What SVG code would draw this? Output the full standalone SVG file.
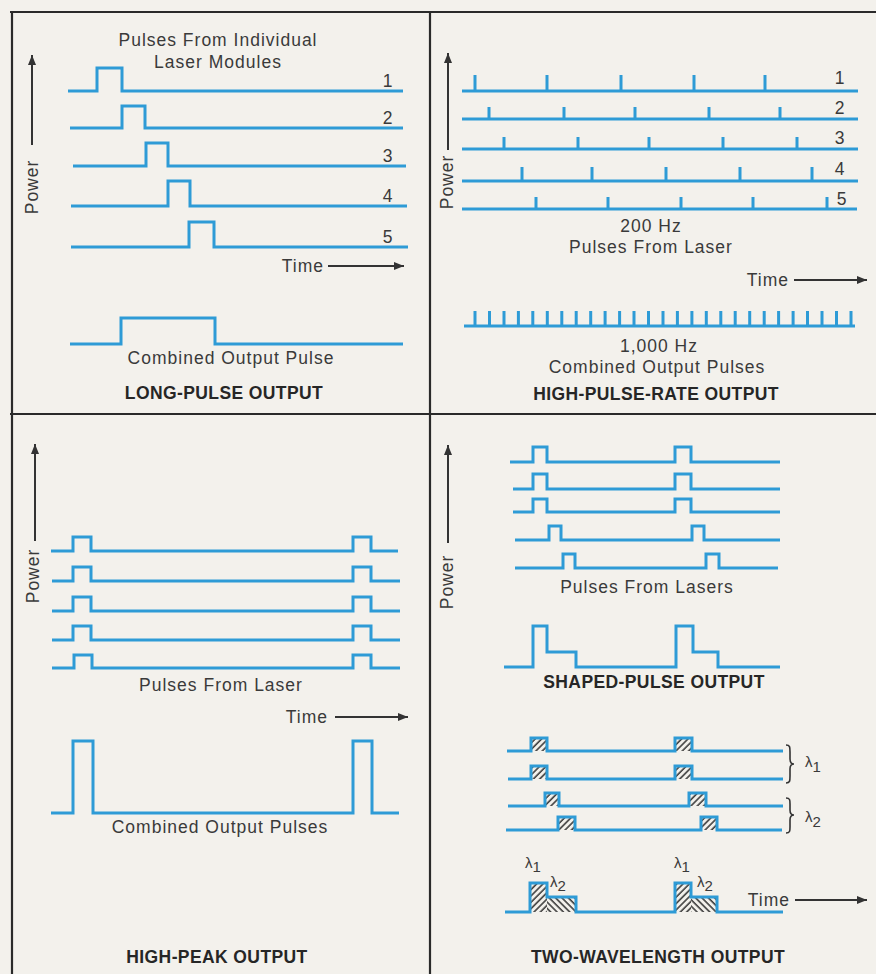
<svg xmlns="http://www.w3.org/2000/svg" width="876" height="974" viewBox="0 0 876 974">
<defs>
<style>
.w{fill:none;stroke:#2e9bd6;stroke-width:3;stroke-linejoin:miter;stroke-linecap:butt}
.t{font-family:"Liberation Sans",Arial,Helvetica,sans-serif;font-size:17.5px;fill:#3a3a3a;letter-spacing:1px}
.m{text-anchor:middle}
.e{text-anchor:end}
.b{font-weight:bold;fill:#262626;letter-spacing:0.4px}
.l{font-size:15px;letter-spacing:0}
.ax{stroke:#333;stroke-width:2;fill:none}
.fr{stroke:#2a2a2a;stroke-width:2.2;fill:none}
.br{stroke:#333;stroke-width:1.6;fill:none}
</style>
<marker id="ah" viewBox="0 0 10 8" refX="10" refY="4" markerWidth="10" markerHeight="8" markerUnits="userSpaceOnUse" orient="auto">
<path d="M0 0 L10 4 L0 8 z" fill="#333"/>
</marker>
<pattern id="h1" width="4.5" height="4.5" patternUnits="userSpaceOnUse" patternTransform="rotate(45)">
<line x1="1" y1="0" x2="1" y2="4.5" stroke="#333" stroke-width="1.5"/>
</pattern>
<pattern id="h2" width="4.5" height="4.5" patternUnits="userSpaceOnUse" patternTransform="rotate(-45)">
<line x1="1" y1="0" x2="1" y2="4.5" stroke="#333" stroke-width="1.5"/>
</pattern>
</defs>
<rect x="0" y="0" width="876" height="974" fill="#f3f1ec"/>

<g id="frame" class="fr">
<line x1="10" y1="12" x2="876" y2="12"/>
<line x1="12" y1="12" x2="12" y2="974"/>
<line x1="430" y1="12" x2="430" y2="974"/>
<line x1="10" y1="414" x2="876" y2="414"/>
</g>

<g id="long-pulse">
<line class="ax" x1="32" y1="145" x2="32" y2="55" marker-end="url(#ah)"/>
<text class="t m" transform="translate(38,187) rotate(-90)">Power</text>
<text class="t m" x="218" y="46">Pulses From Individual</text>
<text class="t m" x="218" y="68">Laser Modules</text>
<path class="w" d="M68 91 H97 V68 H122 V91 H403"/>
<path class="w" d="M70 128 H122 V106 H145 V128 H403"/>
<path class="w" d="M73 166 H146 V143 H168 V166 H406"/>
<path class="w" d="M71 206 H168 V181 H190 V206 H407"/>
<path class="w" d="M71 247 H189 V222 H214 V247 H408"/>
<text class="t m" x="388" y="87">1</text>
<text class="t m" x="388" y="124">2</text>
<text class="t m" x="388" y="162">3</text>
<text class="t m" x="388" y="202">4</text>
<text class="t m" x="388" y="243">5</text>
<text class="t e" x="324" y="272">Time</text>
<line class="ax" x1="328" y1="266" x2="404" y2="266" marker-end="url(#ah)"/>
<path class="w" d="M70 344 H121 V318 H215 V344 H403"/>
<text class="t m" x="231" y="364">Combined Output Pulse</text>
<text class="t m b" x="224" y="399">LONG-PULSE OUTPUT</text>
</g>

<g id="high-pulse-rate">
<line class="ax" x1="448" y1="150" x2="448" y2="53" marker-end="url(#ah)"/>
<text class="t m" transform="translate(453,182) rotate(-90)">Power</text>
<path class="w" d="M462 91 H858 M475 91 V75 M547 91 V75 M621 91 V75 M694 91 V75 M765 91 V75"/>
<path class="w" d="M462 119 H858 M489 119 V107 M564 119 V107 M635 119 V107 M709 119 V107 M780 119 V107"/>
<path class="w" d="M462 149 H858 M504 149 V137 M578 149 V137 M649 149 V137 M723 149 V137 M797 149 V137"/>
<path class="w" d="M462 181 H858 M522 181 V167 M592 181 V167 M666 181 V167 M740 181 V167 M812 181 V167"/>
<path class="w" d="M462 209 H857 M536 209 V197 M608 209 V197 M681 209 V197 M753 209 V197 M827 209 V197"/>
<text class="t m" x="840" y="84">1</text>
<text class="t m" x="840" y="114">2</text>
<text class="t m" x="840" y="144">3</text>
<text class="t m" x="840" y="175">4</text>
<text class="t m" x="842" y="205">5</text>
<text class="t m" x="651" y="232">200 Hz</text>
<text class="t m" x="651" y="253">Pulses From Laser</text>
<text class="t e" x="789" y="286">Time</text>
<line class="ax" x1="794" y1="280" x2="867" y2="280" marker-end="url(#ah)"/>
<path class="w" d="M464 326 H855 M475 326 V311 M489.5 326 V311 M504 326 V311 M518.4 326 V311 M532.8 326 V311 M547.3 326 V311 M561.8 326 V311 M576.2 326 V311 M590.7 326 V311 M605.1 326 V311 M619.6 326 V311 M634 326 V311 M648.5 326 V311 M663 326 V311 M677.4 326 V311 M691.9 326 V311 M706.3 326 V311 M720.8 326 V311 M735.2 326 V311 M749.7 326 V311 M764.2 326 V311 M778.6 326 V311 M793.1 326 V311 M807.5 326 V311 M822 326 V311 M836.5 326 V311 M851 326 V311"/>
<text class="t m" x="659" y="352">1,000 Hz</text>
<text class="t m" x="657" y="373">Combined Output Pulses</text>
<text class="t m b" x="656" y="400">HIGH-PULSE-RATE OUTPUT</text>
</g>

<g id="high-peak">
<line class="ax" x1="35" y1="541" x2="35" y2="444" marker-end="url(#ah)"/>
<text class="t m" transform="translate(39,576) rotate(-90)">Power</text>
<path class="w" d="M51 551 H73 V537 H91 V551 H353 V537 H371 V551 H398"/>
<path class="w" d="M52 581 H73 V567 H91 V581 H353 V567 H371 V581 H400"/>
<path class="w" d="M52 611 H73 V597 H91 V611 H353 V597 H371 V611 H400"/>
<path class="w" d="M52 640 H73 V626 H91 V640 H353 V626 H371 V640 H400"/>
<path class="w" d="M52 668 H74 V655 H92 V668 H353 V655 H371 V668 H400"/>
<text class="t m" x="221" y="691">Pulses From Laser</text>
<text class="t e" x="328" y="723">Time</text>
<line class="ax" x1="335" y1="717" x2="408" y2="717" marker-end="url(#ah)"/>
<path class="w" d="M51 813 H73 V741 H93 V813 H353 V741 H372 V813 H399"/>
<text class="t m" x="220" y="833">Combined Output Pulses</text>
<text class="t m b" x="217" y="963">HIGH-PEAK OUTPUT</text>
</g>

<g id="shaped-pulse">
<line class="ax" x1="448" y1="543" x2="448" y2="445" marker-end="url(#ah)"/>
<text class="t m" transform="translate(453,582) rotate(-90)">Power</text>
<path class="w" d="M510 462 H533 V447 H547 V462 H675 V447 H691 V462 H780"/>
<path class="w" d="M513 489 H533 V474 H547 V489 H675 V474 H691 V489 H780"/>
<path class="w" d="M513 512 H533 V499 H547 V512 H675 V499 H691 V512 H780"/>
<path class="w" d="M515 540 H549 V526 H561 V540 H692 V526 H704 V540 H780"/>
<path class="w" d="M515 568 H563 V554 H575 V568 H706 V554 H719 V568 H778"/>
<text class="t m" x="647" y="593">Pulses From Lasers</text>
<path class="w" d="M504 667 H533 V626 H547 V652 H576 V667 H676 V626 H693 V652 H718 V667 H780"/>
<text class="t m b" x="654" y="688">SHAPED-PULSE OUTPUT</text>
</g>

<g id="two-wavelength">
<rect x="531" y="738" width="16" height="13" fill="url(#h1)"/>
<rect x="675" y="738" width="17" height="13" fill="url(#h1)"/>
<rect x="531" y="766" width="16" height="13" fill="url(#h1)"/>
<rect x="675" y="766" width="17" height="13" fill="url(#h1)"/>
<rect x="545" y="793" width="14" height="13" fill="url(#h1)"/>
<rect x="689" y="793" width="17" height="13" fill="url(#h1)"/>
<rect x="558" y="817" width="17" height="13" fill="url(#h1)"/>
<rect x="701" y="817" width="16" height="13" fill="url(#h1)"/>
<path class="w" d="M507 751 H531 V738 H547 V751 H675 V738 H692 V751 H783"/>
<path class="w" d="M508 779 H531 V766 H547 V779 H675 V766 H692 V779 H783"/>
<path class="w" d="M508 806 H545 V793 H559 V806 H689 V793 H706 V806 H783"/>
<path class="w" d="M506 830 H558 V817 H575 V830 H701 V817 H717 V830 H782"/>
<path class="br" d="M786 745 C790 745 790 747 790 752 L790 759 C790 762 791 764 794 764 C791 764 790 766 790 769 L790 776 C790 781 790 783 786 783"/>
<path class="br" d="M786 798 C790 798 790 800 790 804 L790 810 C790 813 791 815 794 815 C791 815 790 817 790 820 L790 827 C790 831 790 833 786 833"/>
<text class="t l" x="805" y="767">λ<tspan dy="5">1</tspan></text>
<text class="t l" x="805" y="822">λ<tspan dy="5">2</tspan></text>
<rect x="530" y="883" width="17" height="29" fill="url(#h1)"/>
<rect x="547" y="897" width="29" height="15" fill="url(#h2)"/>
<rect x="675" y="883" width="16" height="29" fill="url(#h1)"/>
<rect x="691" y="897" width="26" height="15" fill="url(#h2)"/>
<path class="w" d="M505 912 H530 V883 H547 V897 H576 V912 H675 V883 H691 V897 H717 V912 H783"/>
<text class="t l" x="525" y="868">λ<tspan dy="4">1</tspan></text>
<text class="t l" x="550" y="887">λ<tspan dy="4">2</tspan></text>
<text class="t l" x="674" y="868">λ<tspan dy="4">1</tspan></text>
<text class="t l" x="697" y="887">λ<tspan dy="4">2</tspan></text>
<text class="t e" x="790" y="906">Time</text>
<line class="ax" x1="795" y1="900" x2="867" y2="900" marker-end="url(#ah)"/>
<text class="t m b" x="658" y="963">TWO-WAVELENGTH OUTPUT</text>
</g>
</svg>
